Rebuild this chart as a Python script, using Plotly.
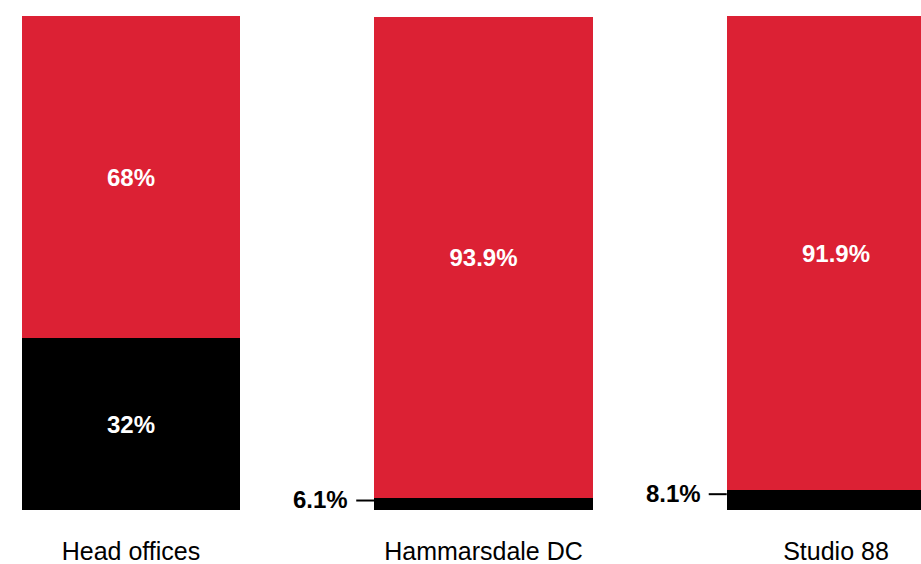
import plotly.graph_objects as go

categories = ["Head offices", "Hammarsdale DC", "Studio 88"]
# segment heights as drawn (share of bar height, %)
black_values = [34.8, 2.4, 4.0]
red_values = [65.2, 97.4, 96.0]
# printed labels
black_labels = ["32%", "6.1%", "8.1%"]
red_labels = ["68%", "93.9%", "91.9%"]
inside_black = [True, False, False]

RED = "#DC2134"
FONT = "Liberation Sans, Arial, sans-serif"
BAR_W = 0.62
VAL_SIZE = 24

x = list(range(len(categories)))

fig = go.Figure()
fig.add_trace(go.Bar(
    x=x, y=black_values, width=BAR_W, marker=dict(color="black", line=dict(width=0)),
    text=[lbl if ins else "" for lbl, ins in zip(black_labels, inside_black)],
    textposition="inside", insidetextanchor="middle", textangle=0,
    textfont=dict(family=FONT, size=VAL_SIZE, color="white", weight="bold"),
    hoverinfo="skip", showlegend=False,
))
fig.add_trace(go.Bar(
    x=x, y=red_values, width=BAR_W, marker=dict(color=RED, line=dict(width=0)),
    text=red_labels,
    textposition="inside", insidetextanchor="middle", textangle=0,
    textfont=dict(family=FONT, size=VAL_SIZE, color="white", weight="bold"),
    hoverinfo="skip", showlegend=False,
))

for i, (lbl, ins) in enumerate(zip(black_labels, inside_black)):
    if ins:
        continue
    yv = black_values[i] * 0.8
    left = i - BAR_W / 2
    fig.add_shape(type="line", xref="x", yref="y", xsizemode="pixel", xanchor=left,
                  x0=-18, x1=0, y0=yv, y1=yv, line=dict(color="black", width=2))
    fig.add_annotation(x=left, y=yv, xref="x", yref="y", text=lbl, showarrow=False,
                       xanchor="right", yanchor="middle", xshift=-24, yshift=1,
                       font=dict(family=FONT, size=VAL_SIZE, color="black", weight="bold"))

fig.update_layout(
    barmode="stack",
    width=921, height=564,
    margin=dict(l=0, r=0, t=16, b=54, autoexpand=False),
    paper_bgcolor="white", plot_bgcolor="white",
    xaxis=dict(range=[-131 / 352.5, (921 - 131) / 352.5], tickmode="array",
               tickvals=x, ticktext=categories, showgrid=False, zeroline=False,
               showline=False, ticks="", ticklabelstandoff=24, automargin=False,
               tickfont=dict(family=FONT, size=25, color="black")),
    yaxis=dict(range=[0, 100], visible=False, showgrid=False, zeroline=False,
               automargin=False),
)

fig.write_html("out.html")
